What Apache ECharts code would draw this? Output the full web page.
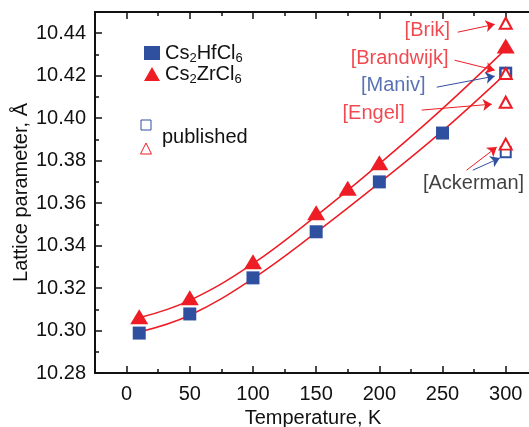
<!DOCTYPE html>
<html>
<head>
<meta charset="utf-8">
<script src="https://cdn.jsdelivr.net/npm/echarts@6/dist/echarts.min.js"></script>
<style>
  html, body { margin: 0; padding: 0; background: #fff; }
  #main { width: 529px; height: 427px; }
</style>
</head>
<body>
<div id="main"></div>
<script>
// measured lattice parameters
var tempHf = [10, 50, 100, 150, 200, 250, 300];
var latHf = [10.2988, 10.3078, 10.3248, 10.3465, 10.3700, 10.3930, 10.4212];
var tempZr = [10, 50, 100, 150, 175, 200, 300];
var latZr = [10.3065, 10.3154, 10.3324, 10.3555, 10.3670, 10.3790, 10.4340];

// fit curves
var fitT = [10, 50, 100, 150, 200, 250, 300];
var fitHf = [10.2993, 10.3072, 10.3245, 10.3462, 10.3695, 10.3940, 10.4210];
var fitZr = [10.3060, 10.3142, 10.3315, 10.3540, 10.3785, 10.4045, 10.4325];

// published values at 300 K
var pubHfT = [300, 300];
var pubHf = [10.4210, 10.3840];
var pubZrT = [300, 300, 300, 300];
var pubZr = [10.4447, 10.4210, 10.4075, 10.3878];

// annotations: label, x, y, colour
var noteText = ['[Brik]', '[Brandwijk]', '[Maniv]', '[Engel]', '[Ackerman]'];
var noteX = [238, 216, 211, 195.5, 274.5];
var noteY = [10.4414, 10.4282, 10.4155, 10.4024, 10.3694];
var noteColor = ['#ee1c24', '#ee1c24', '#2f4f9f', '#ee1c24', '#111'];

// arrows: [x1, y1, x2, y2, colour]
var arrows = [
  [262, 10.4405, 291.3, 10.4442, '#ee1c24'],
  [259.6, 10.4273, 291.3, 10.4226, '#ee1c24'],
  [245.4, 10.4146, 291.3, 10.4198, '#2f4f9f'],
  [233.5, 10.4038, 289, 10.4066, '#ee1c24'],
  [269, 10.3755, 292.9, 10.3864, '#ee1c24'],
  [273.9, 10.3755, 295.3, 10.3812, '#2f4f9f']
];

var majorX = [0, 50, 100, 150, 200, 250, 300];
var minorX = [-25, 25, 75, 125, 175, 225, 275];

var BLUE = '#2f4f9f';
var RED = '#ee1c24';
var FONT = 'Liberation Sans, Arial, sans-serif';
var FS = 20;

function zip(a, b) {
  return a.map(function (v, i) { return [v, b[i]]; });
}

var chart = echarts.init(document.getElementById('main'));

var sub = {
  a: { fontSize: FS, fontFamily: FONT, color: '#111' },
  s: { fontSize: 13, fontFamily: FONT, color: '#111', padding: [11, 0, 0, 0] }
};

var xBase = {
  type: 'value', min: -25, max: 320,
  axisLine: { onZero: false, lineStyle: { color: '#111', width: 2 } },
  splitLine: { show: false }
};

var option = {
  animation: false,
  grid: { left: 95, top: 12, right: -2, bottom: 54, outerBoundsMode: 'none', containLabel: false },
  legend: {
    orient: 'vertical',
    left: 139, top: 38,
    itemWidth: 16, itemHeight: 14, itemGap: -1,
    data: ['Cs2HfCl6', 'Cs2ZrCl6'],
    formatter: function (n) {
      return n === 'Cs2HfCl6' ? '{a|Cs}{s|2}{a|HfCl}{s|6}' : '{a|Cs}{s|2}{a|ZrCl}{s|6}';
    },
    textStyle: { rich: sub }
  },
  xAxis: [
    echarts.util.merge({
      position: 'bottom',
      name: 'Temperature, K', nameLocation: 'middle', nameGap: 35, nameMoveOverlap: false,
      nameTextStyle: { fontSize: FS, fontFamily: FONT, color: '#111' },
      axisTick: { inside: true, length: 7, customValues: majorX, lineStyle: { width: 1.5, color: '#111' } },
      axisLabel: { customValues: majorX, fontSize: FS, fontFamily: FONT, color: '#111', margin: 11 }
    }, xBase, true),
    echarts.util.merge({
      position: 'bottom',
      axisTick: { inside: true, length: 4, customValues: minorX, lineStyle: { width: 1.5, color: '#111' } },
      axisLabel: { show: false }
    }, xBase, true),
    echarts.util.merge({
      position: 'top',
      axisTick: { inside: true, length: 7, customValues: majorX, lineStyle: { width: 1.5, color: '#111' } },
      axisLabel: { show: false }
    }, xBase, true),
    echarts.util.merge({
      position: 'top',
      axisTick: { inside: true, length: 4, customValues: minorX, lineStyle: { width: 1.5, color: '#111' } },
      axisLabel: { show: false }
    }, xBase, true)
  ],
  yAxis: [{
    type: 'value', min: 10.28, max: 10.45, interval: 0.02,
    name: 'Lattice parameter, Å', nameLocation: 'middle', nameGap: 64, nameMoveOverlap: false,
    nameTextStyle: { fontSize: FS, fontFamily: FONT, color: '#111' },
    axisLine: { show: true, onZero: false, lineStyle: { color: '#111', width: 2 } },
    axisTick: { show: true, inside: true, length: 7, lineStyle: { width: 1.5, color: '#111' } },
    minorTick: { show: true, splitNumber: 2, length: 4, lineStyle: { width: 1.5, color: '#111' } },
    splitLine: { show: false },
    axisLabel: {
      fontSize: FS, fontFamily: FONT, color: '#111', margin: 9, showMaxLabel: false,
      formatter: function (v) { return v.toFixed(2); }
    }
  }],
  graphic: [
    { type: 'rect', shape: { x: 141, y: 120, width: 10, height: 10 },
      style: { fill: 'none', stroke: BLUE, lineWidth: 1 } },
    { type: 'polygon', shape: { points: [[146, 143], [140.5, 154], [151.5, 154]] },
      style: { fill: 'none', stroke: RED, lineWidth: 1 } },
    { type: 'text', left: 162, top: 127,
      style: { text: 'published', fontSize: FS, fontFamily: FONT, fill: '#111' } }
  ],
  series: [
    {
      name: 'fitHf', type: 'line', smooth: 0.4, showSymbol: false, silent: true,
      lineStyle: { color: RED, width: 1.5 }, data: zip(fitT, fitHf), z: 2
    },
    {
      name: 'fitZr', type: 'line', smooth: 0.4, showSymbol: false, silent: true,
      lineStyle: { color: RED, width: 1.5 }, data: zip(fitT, fitZr), z: 2
    },
    {
      name: 'Cs2HfCl6', type: 'scatter', symbol: 'rect', symbolSize: 13,
      itemStyle: { color: BLUE, opacity: 1 }, data: zip(tempHf, latHf), z: 3
    },
    {
      name: 'Cs2ZrCl6', type: 'scatter', symbol: 'triangle', symbolSize: [18, 15],
      itemStyle: { color: RED, opacity: 1 }, data: zip(tempZr, latZr), z: 3
    },
    {
      name: 'pubHf', type: 'scatter', symbol: 'emptyRect', symbolSize: 10,
      itemStyle: { color: BLUE, borderColor: BLUE, borderWidth: 1, opacity: 1 },
      data: zip(pubHfT, pubHf), z: 4
    },
    {
      name: 'pubZr', type: 'scatter', symbol: 'emptyTriangle', symbolSize: [12, 11],
      itemStyle: { color: RED, borderColor: RED, borderWidth: 1, opacity: 1 },
      data: zip(pubZrT, pubZr), z: 4
    },
    {
      name: 'notes', type: 'scatter', symbolSize: 0, silent: true, z: 5,
      data: noteText.map(function (t, i) {
        return {
          value: [noteX[i], noteY[i]],
          label: {
            show: true, position: 'inside', formatter: t,
            fontSize: FS, fontFamily: FONT, color: noteColor[i]
          }
        };
      }),
      markLine: {
        silent: true, animation: false,
        symbol: ['none', 'arrow'], symbolSize: [9, 9],
        label: { show: false },
        data: arrows.map(function (a) {
          return [
            { coord: [a[0], a[1]], lineStyle: { color: a[4], width: 1, type: 'solid' } },
            { coord: [a[2], a[3]] }
          ];
        })
      }
    }
  ]
};

chart.setOption(option);
</script>
</body>
</html>
